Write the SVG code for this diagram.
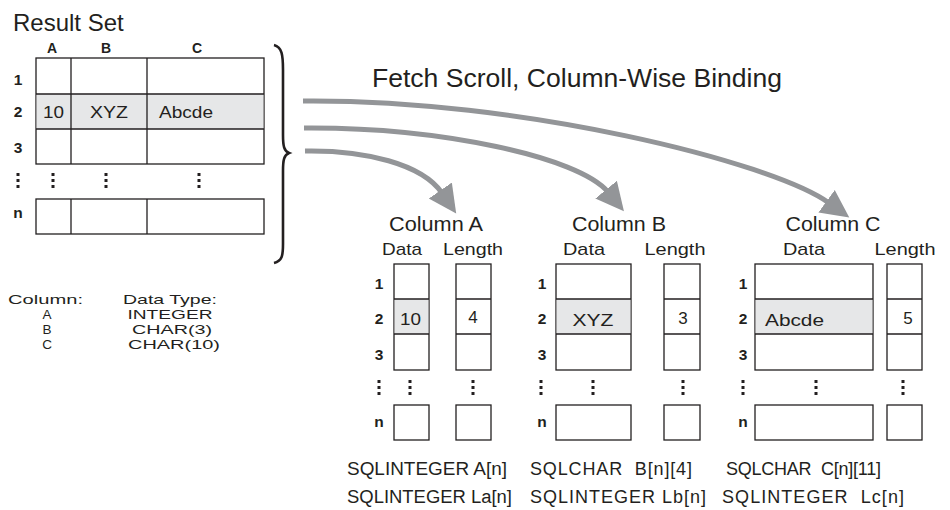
<svg xmlns="http://www.w3.org/2000/svg" xmlns:xlink="http://www.w3.org/1999/xlink" width="950" height="510" viewBox="0 0 950 510">
<style>
text{font-family:"Liberation Sans",Arial,sans-serif;fill:#231f20}
.b{font-weight:bold;font-size:15.5px;text-anchor:middle}
.h{font-weight:bold;font-size:14px;text-anchor:middle}
.v{font-size:17px}
.m{text-anchor:middle}
.sub{font-size:17px;text-anchor:middle}
.col{font-size:21px;text-anchor:middle}
.leg{font-size:13.5px}
.code{font-size:18px}
.cell{fill:#fff;stroke:#231f20;stroke-width:1.3}
.hl{fill:#e6e7e8;stroke:none}
.ln{stroke:#231f20;stroke-width:1.3;fill:none}
.arr{fill:none;stroke:#939598;stroke-width:5;marker-end:url(#ah)}
</style>
<defs>
<marker id="ah" markerUnits="userSpaceOnUse" markerWidth="30" markerHeight="30" viewBox="0 0 30 30" refX="3" refY="15" orient="auto">
<path d="M0,1 L28,15 L0,29 z" fill="#939598"/>
</marker>
<g id="dots"><rect x="-1.5" y="0" width="3" height="3" fill="#231f20"/><rect x="-1.5" y="6" width="3" height="3" fill="#231f20"/><rect x="-1.5" y="12" width="3" height="3" fill="#231f20"/></g>
</defs>
<rect width="950" height="510" fill="#fff"/>

<g id="result-set">
<text x="13" y="31" font-size="24">Result Set</text>
<text class="h" x="52" y="53">A</text>
<text class="h" x="106" y="53">B</text>
<text class="h" x="197" y="53">C</text>
<rect class="cell" x="36" y="58" width="228" height="106"/>
<rect class="hl" x="36.6" y="94" width="226.8" height="35"/>
<path class="ln" d="M36,94H264M36,129H264M71,58V164M147,58V164"/>
<rect class="cell" x="36" y="199" width="228" height="35"/>
<path class="ln" d="M71,199V234M147,199V234"/>
<text class="b" x="18" y="85">1</text>
<text class="b" x="18" y="117">2</text>
<text class="b" x="18" y="153">3</text>
<text class="b" x="18" y="218">n</text>
<text class="v" x="43" y="118" textLength="21" lengthAdjust="spacingAndGlyphs">10</text>
<text class="v m" x="109" y="118" textLength="38" lengthAdjust="spacingAndGlyphs">XYZ</text>
<text class="v" x="159" y="118" textLength="54" lengthAdjust="spacingAndGlyphs">Abcde</text>
<use xlink:href="#dots" x="18" y="173"/>
<use xlink:href="#dots" x="53" y="173"/>
<use xlink:href="#dots" x="106" y="173"/>
<use xlink:href="#dots" x="199" y="173"/>
</g>

<g id="brace">
<path d="M274,45 C282,47 283,55 283,70 L283,135 C283,146 284,151 289,153 C284,155 283,160 283,171 L283,244 C283,256 282,261 274,263" fill="none" stroke="#231f20" stroke-width="2.6"/>
</g>

<g id="title">
<text x="372" y="87" font-size="26" textLength="410" lengthAdjust="spacingAndGlyphs">Fetch Scroll, Column-Wise Binding</text>
</g>

<g id="legend">
<text class="leg" x="8" y="304" textLength="75" lengthAdjust="spacingAndGlyphs">Column:</text>
<text class="leg" x="123" y="304" textLength="94" lengthAdjust="spacingAndGlyphs">Data Type:</text>
<text class="leg m" x="47" y="319">A</text>
<text class="leg m" x="47" y="334">B</text>
<text class="leg m" x="47" y="349">C</text>
<text class="leg m" x="170" y="319" textLength="85" lengthAdjust="spacingAndGlyphs">INTEGER</text>
<text class="leg m" x="172" y="334" textLength="80" lengthAdjust="spacingAndGlyphs">CHAR(3)</text>
<text class="leg m" x="174" y="349" textLength="92" lengthAdjust="spacingAndGlyphs">CHAR(10)</text>
</g>

<g id="column-a">
<text class="col" x="436" y="231" textLength="94" lengthAdjust="spacingAndGlyphs">Column A</text>
<text class="sub" x="402" y="255" textLength="40" lengthAdjust="spacingAndGlyphs">Data</text>
<text class="sub" x="473" y="255" textLength="60" lengthAdjust="spacingAndGlyphs">Length</text>
<rect class="cell" x="394" y="264" width="35" height="106"/>
<rect class="hl" x="394.6" y="299" width="33.8" height="35"/>
<path class="ln" d="M394,299H429M394,334H429"/>
<rect class="cell" x="394" y="405" width="35" height="35"/>
<rect class="cell" x="456" y="264" width="35" height="106"/>
<path class="ln" d="M456,299H491M456,334H491"/>
<rect class="cell" x="456" y="405" width="35" height="35"/>
<text class="b" x="379" y="289">1</text>
<text class="b" x="379" y="324">2</text>
<text class="b" x="379" y="360">3</text>
<text class="b" x="379" y="427">n</text>
<text class="v" x="400" y="325" textLength="21" lengthAdjust="spacingAndGlyphs">10</text>
<text class="v m" x="473" y="323">4</text>
<use xlink:href="#dots" x="379" y="380"/>
<use xlink:href="#dots" x="410" y="380"/>
<use xlink:href="#dots" x="473" y="380"/>
<text class="code" x="347" y="475" textLength="160" lengthAdjust="spacingAndGlyphs">SQLINTEGER A[n]</text>
<text class="code" x="347" y="503" textLength="165" lengthAdjust="spacingAndGlyphs">SQLINTEGER La[n]</text>
</g>

<g id="column-b">
<text class="col" x="619" y="231" textLength="94" lengthAdjust="spacingAndGlyphs">Column B</text>
<text class="sub" x="584" y="255" textLength="42" lengthAdjust="spacingAndGlyphs">Data</text>
<text class="sub" x="675" y="255" textLength="61" lengthAdjust="spacingAndGlyphs">Length</text>
<rect class="cell" x="556" y="264" width="75" height="106"/>
<rect class="hl" x="556.6" y="299" width="73.8" height="35"/>
<path class="ln" d="M556,299H631M556,334H631"/>
<rect class="cell" x="556" y="405" width="75" height="35"/>
<rect class="cell" x="664" y="264" width="36" height="106"/>
<path class="ln" d="M664,299H700M664,334H700"/>
<rect class="cell" x="664" y="405" width="36" height="35"/>
<text class="b" x="542" y="289">1</text>
<text class="b" x="542" y="324">2</text>
<text class="b" x="542" y="360">3</text>
<text class="b" x="542" y="427">n</text>
<text class="v m" x="593" y="326" textLength="41" lengthAdjust="spacingAndGlyphs">XYZ</text>
<text class="v m" x="683" y="324">3</text>
<use xlink:href="#dots" x="541" y="380"/>
<use xlink:href="#dots" x="593" y="380"/>
<use xlink:href="#dots" x="683" y="380"/>
<text class="code" x="530" y="475" textLength="162" xml:space="preserve">SQLCHAR  B[n][4]</text>
<text class="code" x="530" y="503" textLength="176">SQLINTEGER Lb[n]</text>
</g>

<g id="column-c">
<text class="col" x="833" y="231" textLength="95" lengthAdjust="spacingAndGlyphs">Column C</text>
<text class="sub" x="804" y="255" textLength="42" lengthAdjust="spacingAndGlyphs">Data</text>
<text class="sub" x="905" y="255" textLength="61" lengthAdjust="spacingAndGlyphs">Length</text>
<rect class="cell" x="755" y="264" width="118" height="106"/>
<rect class="hl" x="755.6" y="299" width="116.8" height="35"/>
<path class="ln" d="M755,299H873M755,334H873"/>
<rect class="cell" x="755" y="405" width="118" height="35"/>
<rect class="cell" x="887" y="264" width="35" height="106"/>
<path class="ln" d="M887,299H922M887,334H922"/>
<rect class="cell" x="887" y="405" width="35" height="35"/>
<text class="b" x="743" y="289">1</text>
<text class="b" x="743" y="324">2</text>
<text class="b" x="743" y="360">3</text>
<text class="b" x="743" y="427">n</text>
<text class="v" x="765" y="326" textLength="59" lengthAdjust="spacingAndGlyphs">Abcde</text>
<text class="v m" x="908" y="324">5</text>
<use xlink:href="#dots" x="743" y="380"/>
<use xlink:href="#dots" x="816" y="380"/>
<use xlink:href="#dots" x="903" y="380"/>
<text class="code" x="726" y="475" textLength="155" xml:space="preserve">SQLCHAR  C[n][11]</text>
<text class="code" x="722" y="503" textLength="182" xml:space="preserve">SQLINTEGER  Lc[n]</text>
</g>

<g id="connectors">
<path class="arr" d="M305,151 C365,150 422,164 442,193"/>
<path class="arr" d="M304,128 C440,127 579,157 608,192"/>
<path class="arr" d="M303,101 C520,99 772,162 829,203"/>
</g>
</svg>
